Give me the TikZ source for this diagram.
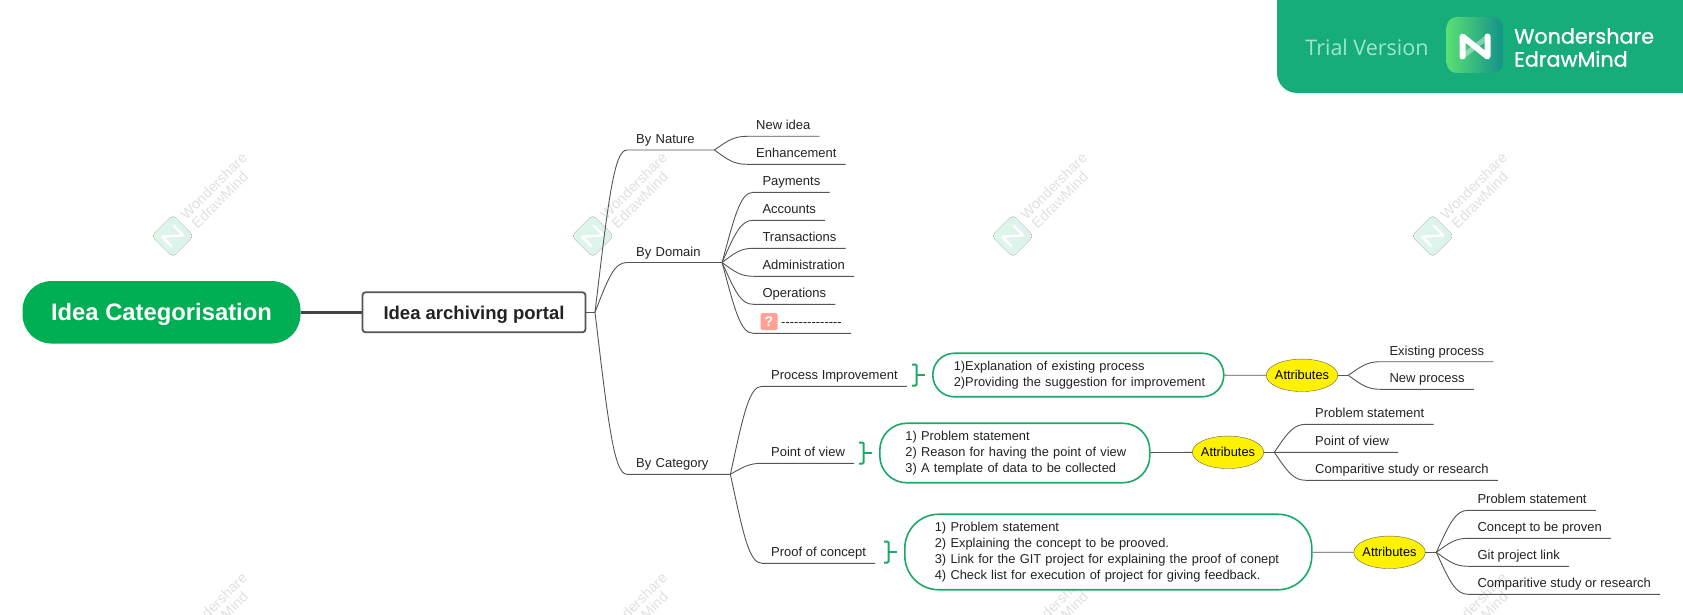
\documentclass[tikz,border=0pt]{standalone}
\usepackage{fontspec}
\setmainfont{Liberation Sans}
\newfontfamily\trialfont{Open Sans}
\newfontfamily\brandfont[FakeBold=1]{Poppins}
\usetikzlibrary{calc,shapes.geometric}
\definecolor{bannergreen}{HTML}{16AD7A}
\definecolor{trialgreen}{HTML}{A0E6CC}
\definecolor{logolight}{HTML}{5ADF73}
\definecolor{logodark}{HTML}{12918A}
\definecolor{rootgreen}{HTML}{00AF54}
\definecolor{pillgreen}{HTML}{1BA968}
\definecolor{inkgray}{HTML}{555555}
\definecolor{textgray}{HTML}{222222}
\definecolor{askred}{HTML}{FFA295}
\definecolor{wmleft}{HTML}{DDF7E8}
\definecolor{wmright}{HTML}{DDF1EF}
\newcommand{\twig}[2]{
  \path ($(#1)!.6!(#2.south west)$) coordinate (tw);
  \draw[branch] (#1) .. controls ($(#1)!.7!(tw |- #2.south west)$) and (tw |- #2.south west) .. (#2.south west) -- (#2.south east);
}
\begin{document}
\begin{tikzpicture}[x=1pt, y=-1pt,
  every node/.style = {font=\fontsize{13}{16}\selectfont, text=textgray},
  branch/.style = {draw=inkgray, line width=.9pt},
  leaf/.style = {anchor=south west, inner xsep=9pt, inner ysep=3.3pt,
    text height=10pt, text depth=3pt},
  pill/.style = {draw=pillgreen, line width=1.6pt, fill=white, anchor=west,
    inner xsep=2pt, inner ysep=0pt, font=\fontsize{12.85}{16}\selectfont},
  attr/.style = {shape=ellipse, draw=black!70!yellow, fill=yellow, inner xsep=-3pt, inner ysep=0pt,
    minimum width=71.5pt, minimum height=32.5pt, text=black, font=\fontsize{12.8}{14}\selectfont},
  brace/.style = {draw=pillgreen, line width=2pt, rounded corners=1pt},
  wmark/.style = {text=black!12, rotate=45, inner sep=0pt,
    font=\fontsize{14.5}{16}\selectfont}]
  \clip (0,0) rectangle (1683,615);
  % watermark grid
  \foreach \wx in {172.7,592.7,1012.7,1432.7}
    \foreach \wy in {236,656} {
      \fill[rounded corners=4pt, left color=wmleft, right color=wmright, shift={(\wx,\wy)}]
        (-21,0) -- (0,-21) -- (21,0) -- (0,21) -- cycle;
      \draw[white, line width=2.4pt, line join=round, shift={(\wx,\wy)}, rotate=45]
        (-8,7) -- (-8,-7) -- (8,7) -- (8,-7);
      \node[wmark] (wmA\wx-\wy) at (\wx+41,\wy-50) {Wondershare};
      \node[wmark] (wmB\wx-\wy) at (\wx+47,\wy-36) {EdrawMind};
    }
  % trial banner
  \fill[bannergreen, rounded corners=20pt] (1277,-40) rectangle (1730,93);
  \node[text=trialgreen, font=\trialfont\fontsize{21.5}{24}\selectfont]
    (trial) at (1367,47) {Trial Version};
  \node[shape=rectangle, rounded corners=10pt, minimum size=56pt, inner sep=0pt, shading angle=-45,
    left color=logolight, right color=logodark]
    (logo) at (1474.7,45) {};
  \draw[white, opacity=.4, line width=5pt] (1487.5,37) -- (1462.5,56.5);
  \draw[white, line width=6pt, line join=round, line cap=round]
    (1462.5,56.5) -- (1462.5,36.5) -- (1487.5,56.5) -- (1487.5,36.5);
  \node[anchor=west, inner sep=0pt, align=left, text=white, font=\brandfont\fontsize{20.7}{23}\selectfont]
    (brand) at (1514,47.5) {Wondershare\\EdrawMind};

  % centre of the map
  \node[shape=rectangle, rounded corners=29pt, fill=rootgreen, minimum width=278pt, minimum height=62.5pt,
    inner sep=0pt, text depth=0pt, text=white, font=\bfseries\fontsize{23.8}{28}\selectfont]
    (root) at (161.5,312.3) {Idea Categorisation};
  \node[shape=rectangle, rounded corners=3pt, draw=inkgray, line width=1.8pt, fill=white,
    minimum width=223pt, minimum height=40pt, inner sep=0pt, text depth=0pt, font=\bfseries\fontsize{18.5}{22}\selectfont]
    (portal) at (474,312.3) {Idea archiving portal};
  \draw[inkgray!80!black, line width=3pt] (root) -- (portal);
  \coordinate (hub) at (595,312.3);
  \draw[branch] (portal) -- (hub);

  % first level
  \node[leaf, text width=69pt] (nature) at (627,150) {By Nature};
  \node[leaf, text width=76.7pt] (domain) at (627,262.5) {By Domain};
  \node[leaf, text width=85pt] (category) at (627,474.3) {By Category};

  \node[leaf] (newidea) at (747,136.3) {New idea};
  \node[leaf] (enhance) at (747,164.3) {Enhancement};

  \node[leaf] (payments) at (753.3,192.3) {Payments};
  \node[leaf] (accounts) at (753.3,220.3) {Accounts};
  \node[leaf] (trans) at (753.3,248.3) {Transactions};
  \node[leaf] (admin) at (753.3,276.3) {Administration};
  \node[leaf] (operations) at (753.3,304.3) {Operations};
  \node[leaf] (blank) at (753.3,333.3) {\hspace*{18.7pt}-{}-{}-{}-{}-{}-{}-{}-{}-{}-{}-{}-{}-{}-};
  \node[shape=rectangle, rounded corners=1.5pt, fill=askred, minimum size=17pt, inner sep=0pt,
    text=white, font=\bfseries\fontsize{14}{16}\selectfont] (qmark) at (769,321.5) {?};

  \node[leaf] (procimp) at (762,386.3) {Process Improvement};
  \node[leaf] (pov) at (762,463.3) {Point of view};
  \node[leaf] (poc) at (762,563.3) {Proof of concept};

  % the three green boxes
  \node[pill, rounded corners=21.5pt, text width=287pt, minimum height=43.5pt]
    (pillA) at (932,375) {\raggedright\leftskip=19pt
      1)Explanation of existing process\\2)Providing the suggestion for improvement\par};
  \node[pill, rounded corners=27pt, text width=266pt, minimum height=59.5pt]
    (pillB) at (879,453) {\raggedright\leftskip=23.6pt
      1) Problem statement\\2) Reason for having the point of view\\3) A template of data to be collected\par};
  \node[pill, rounded corners=34pt, text width=403pt, minimum height=75.5pt]
    (pillC) at (904,552) {\raggedright\leftskip=28pt
      1) Problem statement\\2) Explaining the concept to be prooved.\\3) Link for the GIT project for explaining the proof of conept\\4) Check list for execution of project for giving feedback.\par};

  \foreach \pillname in {pillA,pillB,pillC} {
    \draw[brace] ([shift={(-20,-10.5)}]\pillname.west) -- ++(4.5,0) -- ++(0,21) -- ++(-4.5,0);
    \draw[brace] ([shift={(-15.5,0)}]\pillname.west) -- ++(8,0);
  }

  \node[attr] (attrA) at (1302,375.3) {Attributes};
  \node[attr] (attrB) at (1228,452.3) {Attributes};
  \node[attr] (attrC) at (1389.5,552.3) {Attributes};
  \draw[branch] (pillA) -- (attrA);
  \draw[branch] (pillB) -- (attrB);
  \draw[branch] (pillC) -- (attrC);
  \coordinate (jointA) at (1348.3,375.3);
  \coordinate (jointB) at (1274.3,452.3);
  \coordinate (jointC) at (1436.3,552.3);
  \draw[branch] (attrA) -- (jointA);
  \draw[branch] (attrB) -- (jointB);
  \draw[branch] (attrC) -- (jointC);

  \node[leaf] (existing) at (1380.3,361.7) {Existing process};
  \node[leaf] (newproc) at (1380.3,389.3) {New process};

  \node[leaf] (probB) at (1306,424.3) {Problem statement};
  \node[leaf] (viewB) at (1306,452.3) {Point of view};
  \node[leaf] (studyB) at (1306,480.3) {Comparitive study or research};

  \node[leaf] (probC) at (1468.3,510.3) {Problem statement};
  \node[leaf] (provenC) at (1468.3,538.3) {Concept to be proven};
  \node[leaf] (gitC) at (1468.3,566.3) {Git project link};
  \node[leaf] (studyC) at (1468.3,594.3) {Comparitive study or research};

  % underlined branches
  \foreach \src/\kid in {hub/nature, hub/domain, hub/category,
      nature.south east/newidea, nature.south east/enhance,
      domain.south east/payments, domain.south east/accounts, domain.south east/trans,
      domain.south east/admin, domain.south east/operations, domain.south east/blank,
      category.south east/procimp, category.south east/pov, category.south east/poc,
      jointA/existing, jointA/newproc,
      jointB/probB, jointB/viewB, jointB/studyB,
      jointC/probC, jointC/provenC, jointC/gitC, jointC/studyC}
    {\twig{\src}{\kid}}
\end{tikzpicture}
\end{document}
